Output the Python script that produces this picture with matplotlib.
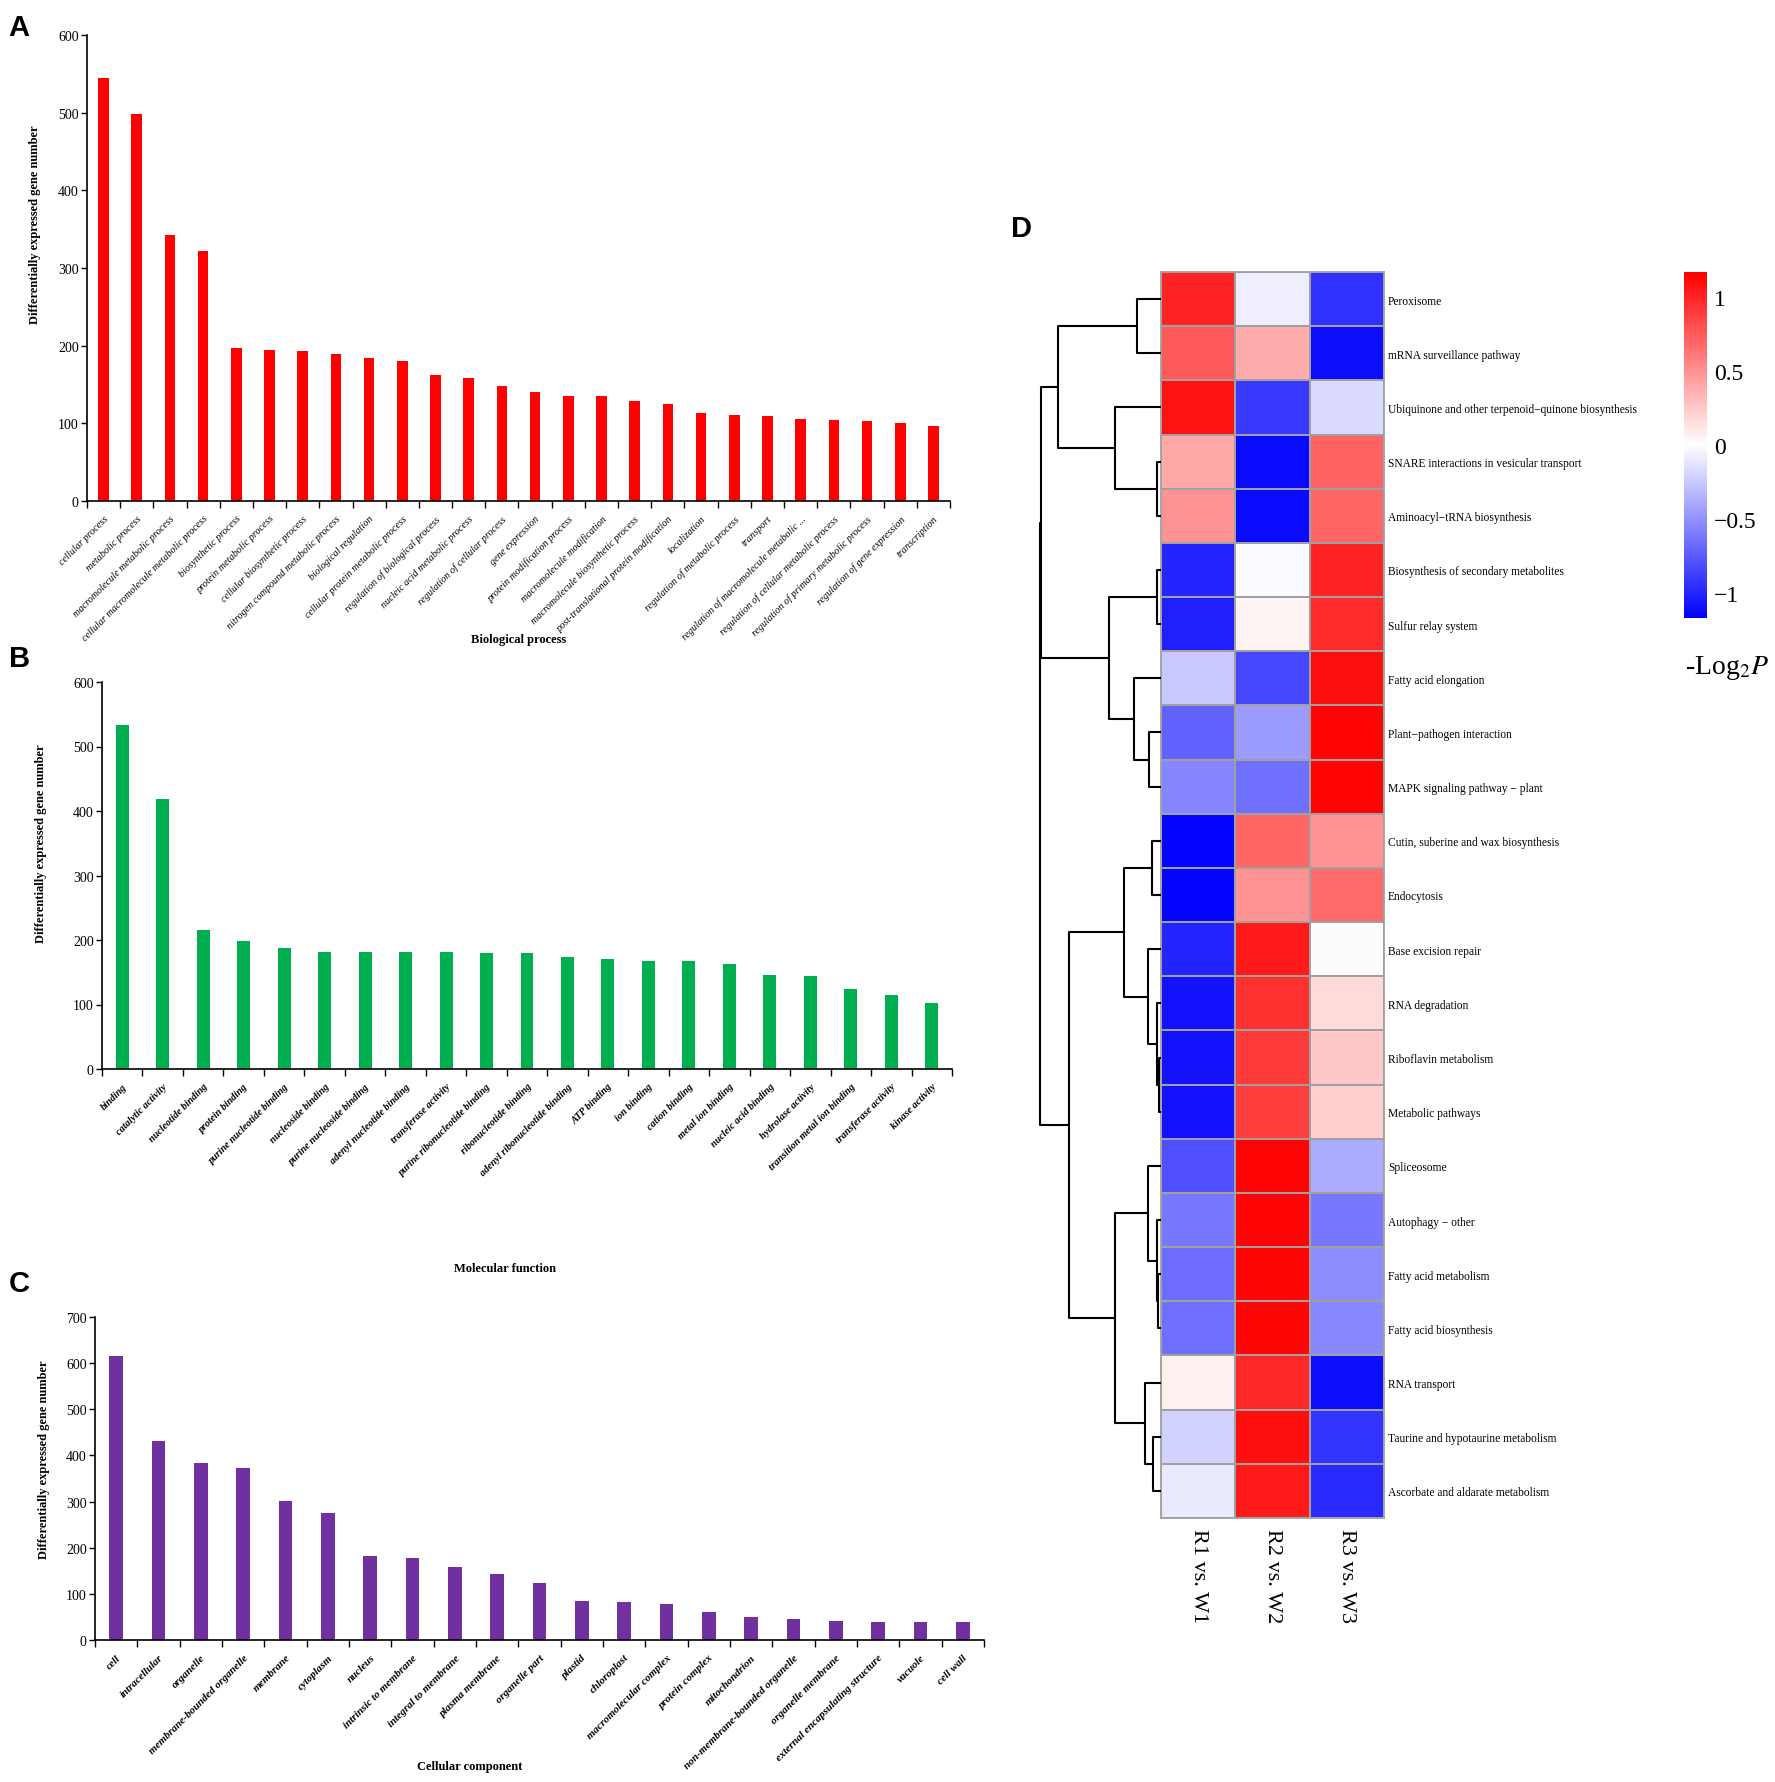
import numpy as np
import matplotlib
matplotlib.use("Agg")
import matplotlib.pyplot as plt

W, H = 1775, 1783
SERIF = "Liberation Serif"
SANS = "Liberation Sans"
plt.rcParams["mathtext.fontset"] = "stix"

# ---- GO enrichment bar data -------------------------------------------
bp_terms = [
    "cellular process", "metabolic process", "macromolecule metabolic process",
    "cellular macromolecule metabolic process", "biosynthetic process",
    "protein metabolic process", "cellular biosynthetic process",
    "nitrogen compound metabolic process", "biological regulation",
    "cellular protein metabolic process", "regulation of biological process",
    "nucleic acid metabolic process", "regulation of cellular process",
    "gene expression", "protein modification process",
    "macromolecule modification", "macromolecule biosynthetic process",
    "post-translational protein modification", "localization",
    "regulation of metabolic process", "transport",
    "regulation of macromolecule metabolic ...",
    "regulation of cellular metabolic process",
    "regulation of primary metabolic process",
    "regulation of gene expression", "transcription",
]
bp_counts = [545, 498, 343, 322, 197, 195, 193, 189, 184, 180, 162, 158, 148,
             140, 135, 135, 129, 125, 113, 111, 109, 105, 104, 103, 100, 97]

mf_terms = [
    "binding", "catalytic activity", "nucleotide binding", "protein binding",
    "purine nucleotide binding", "nucleoside binding",
    "purine nucleoside binding", "adenyl nucleotide binding",
    "transferase activity", "purine ribonucleotide binding",
    "ribonucleotide binding", "adenyl ribonucleotide binding", "ATP binding",
    "ion binding", "cation binding", "metal ion binding",
    "nucleic acid binding", "hydrolase activity",
    "transition metal ion binding", "transferase activity", "kinase activity",
]
mf_counts = [533, 418, 215, 199, 188, 181, 181, 181, 181, 180, 180, 173, 170,
             167, 167, 163, 146, 144, 124, 114, 102]

cc_terms = [
    "cell", "intracellular", "organelle", "membrane-bounded organelle",
    "membrane", "cytoplasm", "nucleus", "intrinsic to membrane",
    "integral to membrane", "plasma membrane", "organelle part", "plastid",
    "chloroplast", "macromolecular complex", "protein complex",
    "mitochondrion", "non-membrane-bounded organelle", "organelle membrane",
    "external encapsulating structure", "vacuole", "cell wall",
]
cc_counts = [615, 432, 384, 373, 302, 276, 183, 178, 159, 143, 124, 85, 82,
             77, 60, 50, 46, 42, 40, 39, 39]

# ---- KEGG heatmap data ------------------------------------------------
pathways = [
    "Peroxisome", "mRNA surveillance pathway",
    "Ubiquinone and other terpenoid\u2212quinone biosynthesis",
    "SNARE interactions in vesicular transport",
    "Aminoacyl\u2212tRNA biosynthesis",
    "Biosynthesis of secondary metabolites", "Sulfur relay system",
    "Fatty acid elongation", "Plant\u2212pathogen interaction",
    "MAPK signaling pathway \u2212 plant",
    "Cutin, suberine and wax biosynthesis", "Endocytosis",
    "Base excision repair", "RNA degradation", "Riboflavin metabolism",
    "Metabolic pathways", "Spliceosome", "Autophagy \u2212 other",
    "Fatty acid metabolism", "Fatty acid biosynthesis", "RNA transport",
    "Taurine and hypotaurine metabolism", "Ascorbate and aldarate metabolism",
]
comparisons = ["R1 vs. W1", "R2 vs. W2", "R3 vs. W3"]
r1_w1 = [1.00, 0.75, 1.08, 0.40, 0.50, -1.00, -1.02, -0.25, -0.72, -0.55,
         -1.15, -1.15, -1.00, -1.08, -1.08, -1.08, -0.80, -0.62, -0.67, -0.65,
         0.07, -0.21, -0.10]
r2_w2 = [-0.08, 0.38, -0.90, -1.12, -1.12, -0.02, 0.05, -0.85, -0.45, -0.65,
         0.70, 0.50, 1.05, 0.95, 0.90, 0.88, 1.15, 1.15, 1.14, 1.14,
         0.98, 1.10, 1.05]
r3_w3 = [-0.95, -1.10, -0.17, 0.72, 0.70, 1.00, 0.97, 1.10, 1.15, 1.15,
         0.50, 0.68, -0.01, 0.17, 0.25, 0.22, -0.38, -0.62, -0.53, -0.54,
         -1.10, -0.93, -0.97]

# row dendrogram, linkage style: (child_a, child_b, height); ids >= 23 are merges
row_merges = [
    (0, 1, 1.96), (3, 4, 0.36), (2, 24, 3.80), (23, 25, 8.54),
    (5, 6, 0.36), (8, 9, 0.99), (7, 28, 2.20), (27, 29, 4.30),
    (26, 30, 9.95), (10, 11, 0.77), (14, 15, 0.14), (13, 33, 0.36),
    (12, 34, 1.10), (32, 35, 3.03), (18, 19, 0.22), (17, 37, 0.36),
    (16, 38, 1.10), (21, 22, 0.63), (20, 40, 1.32), (39, 41, 3.80),
    (36, 42, 7.60), (31, 43, 10.0),
]


def px_box(x0, y0, x1, y1):
    return [x0 / W, 1 - y1 / H, (x1 - x0) / W, (y1 - y0) / H]


def px_text(x, y, s, **kw):
    fig.text(x / W, 1 - y / H, s, **kw)


fig = plt.figure(figsize=(W / 100, H / 100), dpi=100)


def bar_panel(box, terms, counts, color, ymax, lab_size, lab_weight,
              ylab_xy, xlabel, xlab_xy):
    ax = fig.add_axes(px_box(*box))
    n = len(terms)
    x = np.arange(n)
    ax.bar(x, counts, width=0.32, color=color, zorder=2)
    ax.set_xlim(-0.5, n - 0.5)
    ax.set_ylim(0, ymax)
    ax.set_yticks(range(0, ymax + 1, 100))
    ax.set_xticks(x)
    ax.set_xticklabels(terms, rotation=45, ha="right", va="top",
                       rotation_mode="anchor", fontsize=lab_size,
                       family=SERIF, style="italic", fontweight=lab_weight)
    ax.set_xticks(np.arange(n + 1) - 0.5, minor=True)
    ax.tick_params(axis="x", which="major", length=0, pad=9)
    ax.tick_params(axis="x", which="minor", length=5, width=1.0,
                   direction="out")
    ax.tick_params(axis="y", length=4, width=1.0, direction="out", pad=2,
                   labelsize=10)
    for t in ax.get_yticklabels():
        t.set_family(SERIF)
    for s in ("top", "right"):
        ax.spines[s].set_visible(False)
    for s in ("left", "bottom"):
        ax.spines[s].set_linewidth(1.2)
    px_text(*ylab_xy, "Differentially expressed gene number", rotation=90,
            ha="center", va="center", family=SERIF, fontweight="bold",
            fontsize=9)
    px_text(*xlab_xy, xlabel, ha="center", va="center", family=SERIF,
            fontweight="bold", fontsize=9)
    return ax


bar_panel((87, 36, 950, 502), bp_terms, bp_counts, "#FF0000", 600, 7.3,
          "normal", (35, 225), "Biological process", (519, 640))
bar_panel((102, 683, 952, 1070), mf_terms, mf_counts, "#00B050", 600, 7.3,
          "bold", (41, 844), "Molecular function", (505, 1269))
bar_panel((95, 1318, 984, 1641), cc_terms, cc_counts, "#7030A0", 700, 7.8,
          "bold", (44, 1460), "Cellular component", (470, 1767))

# panel letters
for letter, (lx, ly) in {"A": (8, 14), "B": (9, 645), "C": (9, 1270),
                         "D": (1011, 215)}.items():
    px_text(lx, ly, letter, ha="left", va="top", family=SANS,
            fontweight="bold", fontsize=21)

# ---- heatmap ----------------------------------------------------------
vals = np.column_stack([r1_w1, r2_w2, r3_w3])
n_rows = len(pathways)
hm_left, hm_right, hm_top, hm_bot = 1161, 1384, 273, 1519
axh = fig.add_axes(px_box(hm_left, hm_top, hm_right, hm_bot))
mesh = axh.pcolormesh(vals, cmap="bwr", vmin=-1.17, vmax=1.17,
                      edgecolors="#A0A0A0", linewidth=1.3)
axh.set_xlim(0, 3)
axh.set_ylim(n_rows, 0)
axh.yaxis.tick_right()
axh.set_yticks(np.arange(n_rows) + 0.5)
axh.set_yticklabels(pathways, family=SERIF, fontsize=8.3)
axh.set_xticks(np.arange(3) + 0.5)
axh.set_xticklabels(comparisons, rotation=270, family=SERIF, fontsize=16,
                    va="top", ha="center")
axh.tick_params(axis="y", length=0, pad=3)
axh.tick_params(axis="x", length=0, pad=7)
for s in axh.spines.values():
    s.set_color("#A0A0A0")
    s.set_linewidth(1.3)

# dendrogram
axd = fig.add_axes(px_box(1040, hm_top, hm_left, hm_bot))
ypos = {i: i + 0.5 for i in range(n_rows)}
hgt = {i: 0.0 for i in range(n_rows)}
for k, (a, b, h) in enumerate(row_merges):
    node = n_rows + k
    axd.plot([hgt[a], h, h, hgt[b]], [ypos[a], ypos[a], ypos[b], ypos[b]],
             color="black", lw=1.5, clip_on=False, solid_capstyle="butt")
    ypos[node] = (ypos[a] + ypos[b]) / 2
    hgt[node] = h
axd.set_xlim(max(hgt.values()), 0)
axd.set_ylim(n_rows, 0)
axd.axis("off")

# colorbar
cax = fig.add_axes(px_box(1684, 273, 1707, 619))
cb = fig.colorbar(mesh, cax=cax)
cb.outline.set_visible(False)
cb.set_ticks([-1, -0.5, 0, 0.5, 1])
cb.set_ticklabels(["\u22121", "\u22120.5", "0", "0.5", "1"])
cax.tick_params(length=0, pad=5, labelsize=17)
for t in cax.get_yticklabels():
    t.set_family(SERIF)
px_text(1727, 668, r"-Log$_{2}$$\mathit{P}$", ha="center", va="center",
        family=SERIF, fontsize=20)

fig.savefig("out.png", dpi=100)
